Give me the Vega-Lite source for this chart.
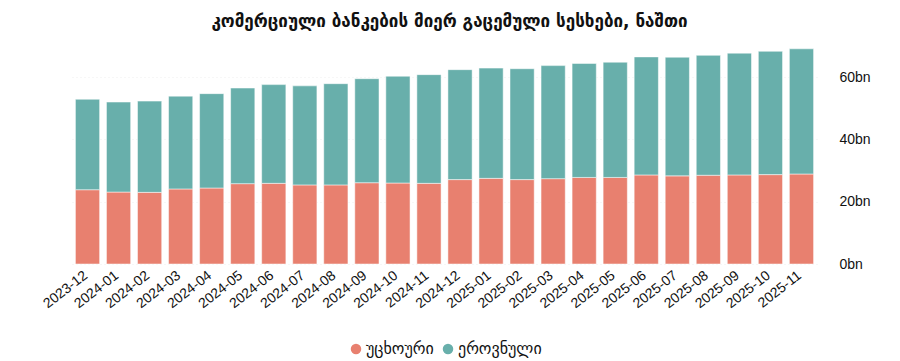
{
  "$schema": "https://vega.github.io/schema/vega-lite/v6.json",
  "autosize": {"type": "none"},
  "width": 745,
  "height": 218,
  "padding": {"left": 72, "top": 46, "right": 83, "bottom": 97},
  "background": "white",
  "title": {
    "text": "კომერციული ბანკების მიერ გაცემული სესხები, ნაშთი",
    "font": "DejaVu Sans",
    "fontSize": 17,
    "fontWeight": "bold",
    "color": "#111111",
    "anchor": "middle",
    "frame": "group",
    "dx": 5,
    "offset": 15
  },
  "data": {
    "values": [
      {"month": "2023-12", "type": "უცხოური", "ord": 1, "value": 23.85},
      {"month": "2023-12", "type": "ეროვნული", "ord": 2, "value": 29.05},
      {"month": "2024-01", "type": "უცხოური", "ord": 1, "value": 23.1},
      {"month": "2024-01", "type": "ეროვნული", "ord": 2, "value": 28.9},
      {"month": "2024-02", "type": "უცხოური", "ord": 1, "value": 23.0},
      {"month": "2024-02", "type": "ეროვნული", "ord": 2, "value": 29.3},
      {"month": "2024-03", "type": "უცხოური", "ord": 1, "value": 24.1},
      {"month": "2024-03", "type": "ეროვნული", "ord": 2, "value": 29.8},
      {"month": "2024-04", "type": "უცხოური", "ord": 1, "value": 24.4},
      {"month": "2024-04", "type": "ეროვნული", "ord": 2, "value": 30.3},
      {"month": "2024-05", "type": "უცხოური", "ord": 1, "value": 25.8},
      {"month": "2024-05", "type": "ეროვნული", "ord": 2, "value": 30.7},
      {"month": "2024-06", "type": "უცხოური", "ord": 1, "value": 25.9},
      {"month": "2024-06", "type": "ეროვნული", "ord": 2, "value": 31.7},
      {"month": "2024-07", "type": "უცხოური", "ord": 1, "value": 25.4},
      {"month": "2024-07", "type": "ეროვნული", "ord": 2, "value": 31.8},
      {"month": "2024-08", "type": "უცხოური", "ord": 1, "value": 25.4},
      {"month": "2024-08", "type": "ეროვნული", "ord": 2, "value": 32.5},
      {"month": "2024-09", "type": "უცხოური", "ord": 1, "value": 26.1},
      {"month": "2024-09", "type": "ეროვნული", "ord": 2, "value": 33.4},
      {"month": "2024-10", "type": "უცხოური", "ord": 1, "value": 26.0},
      {"month": "2024-10", "type": "ეროვნული", "ord": 2, "value": 34.3},
      {"month": "2024-11", "type": "უცხოური", "ord": 1, "value": 25.9},
      {"month": "2024-11", "type": "ეროვნული", "ord": 2, "value": 34.9},
      {"month": "2024-12", "type": "უცხოური", "ord": 1, "value": 27.1},
      {"month": "2024-12", "type": "ეროვნული", "ord": 2, "value": 35.3},
      {"month": "2025-01", "type": "უცხოური", "ord": 1, "value": 27.5},
      {"month": "2025-01", "type": "ეროვნული", "ord": 2, "value": 35.4},
      {"month": "2025-02", "type": "უცხოური", "ord": 1, "value": 27.1},
      {"month": "2025-02", "type": "ეროვნული", "ord": 2, "value": 35.6},
      {"month": "2025-03", "type": "უცხოური", "ord": 1, "value": 27.4},
      {"month": "2025-03", "type": "ეროვნული", "ord": 2, "value": 36.3},
      {"month": "2025-04", "type": "უცხოური", "ord": 1, "value": 27.8},
      {"month": "2025-04", "type": "ეროვნული", "ord": 2, "value": 36.6},
      {"month": "2025-05", "type": "უცხოური", "ord": 1, "value": 27.8},
      {"month": "2025-05", "type": "ეროვნული", "ord": 2, "value": 37.0},
      {"month": "2025-06", "type": "უცხოური", "ord": 1, "value": 28.6},
      {"month": "2025-06", "type": "ეროვნული", "ord": 2, "value": 37.9},
      {"month": "2025-07", "type": "უცხოური", "ord": 1, "value": 28.3},
      {"month": "2025-07", "type": "ეროვნული", "ord": 2, "value": 38.1},
      {"month": "2025-08", "type": "უცხოური", "ord": 1, "value": 28.5},
      {"month": "2025-08", "type": "ეროვნული", "ord": 2, "value": 38.5},
      {"month": "2025-09", "type": "უცხოური", "ord": 1, "value": 28.6},
      {"month": "2025-09", "type": "ეროვნული", "ord": 2, "value": 39.1},
      {"month": "2025-10", "type": "უცხოური", "ord": 1, "value": 28.7},
      {"month": "2025-10", "type": "ეროვნული", "ord": 2, "value": 39.6},
      {"month": "2025-11", "type": "უცხოური", "ord": 1, "value": 28.9},
      {"month": "2025-11", "type": "ეროვნული", "ord": 2, "value": 40.2}
    ]
  },
  "mark": {"type": "bar", "stroke": "white", "strokeWidth": 0.5},
  "encoding": {
    "x": {
      "field": "month",
      "type": "ordinal",
      "scale": {"paddingInner": 0.22, "paddingOuter": 0.11},
      "axis": {
        "title": null,
        "labelAngle": -38,
        "labelAlign": "right",
        "labelBaseline": "top",
        "labelFont": "Liberation Sans",
        "labelFontSize": 14,
        "labelColor": "#111111",
        "labelPadding": 4,
        "labelOffset": -6,
        "ticks": false,
        "domain": false,
        "grid": false
      }
    },
    "y": {
      "field": "value",
      "type": "quantitative",
      "stack": "zero",
      "scale": {"domain": [0, 70], "nice": false},
      "axis": {
        "orient": "right",
        "title": null,
        "values": [0, 20, 40, 60],
        "labelExpr": "datum.value + 'bn'",
        "labelFont": "Liberation Sans",
        "labelFontSize": 14,
        "labelColor": "#111111",
        "labelPadding": 22,
        "ticks": false,
        "domain": false,
        "grid": true,
        "gridColor": "#eeeeee",
        "gridDash": [1, 3]
      }
    },
    "color": {
      "field": "type",
      "type": "nominal",
      "scale": {"domain": ["უცხოური", "ეროვნული"], "range": ["#E8806F", "#68AFAB"]},
      "legend": {
        "title": null,
        "orient": "none",
        "direction": "horizontal",
        "legendX": 276,
        "legendY": 295,
        "symbolType": "circle",
        "symbolSize": 110,
        "symbolStrokeWidth": 0,
        "labelFont": "DejaVu Sans",
        "labelFontSize": 16,
        "labelColor": "#111111",
        "columnPadding": 6,
        "labelOffset": 2
      }
    },
    "order": {"field": "ord", "type": "quantitative"}
  },
  "config": {"view": {"stroke": null}}
}
